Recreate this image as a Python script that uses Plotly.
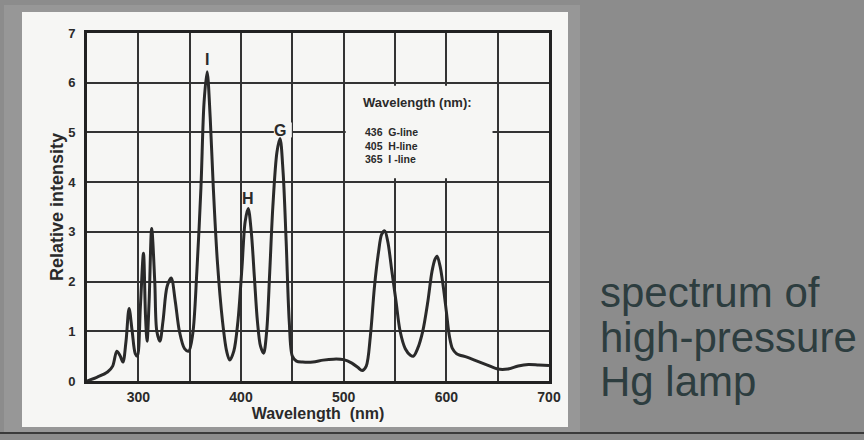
import plotly.graph_objects as go

# ---- data ----
wavelength_nm = [250, 260, 270, 275, 279, 282, 285, 288, 291, 294, 297, 299, 302, 305, 307, 308.5,
                 310.5, 313, 316, 318, 321, 324, 328, 332, 336, 340, 345, 349, 353, 357, 361, 364,
                 367, 370, 373, 377, 382, 386, 389, 393, 397, 401, 404, 407, 410, 413, 416, 419,
                 422, 425, 428, 431, 435, 438, 441, 444, 447, 450, 454, 460, 470, 480, 490, 500,
                 508, 514, 518, 522, 526, 530, 534, 537, 540, 543, 547, 551, 555, 560, 565, 568,
                 572, 577, 582, 586, 589, 591, 594, 597, 600, 603, 606, 610, 620, 630, 640, 650,
                 660, 670, 680, 690, 700]
intensity = [0.0, 0.08, 0.18, 0.3, 0.6, 0.52, 0.38, 0.8, 1.46, 1.0, 0.55, 0.5, 1.5, 2.57, 1.3, 0.8,
             1.6, 3.07, 2.0, 1.0, 0.8, 1.2, 1.9, 2.07, 1.6, 1.0, 0.65, 0.6, 0.95, 2.2, 3.9, 5.6,
             6.22, 5.3, 3.9, 2.4, 1.2, 0.6, 0.42, 0.6, 1.2, 2.3, 3.2, 3.47, 3.0, 2.1, 1.2, 0.7,
             0.56, 1.0, 2.2, 3.5, 4.6, 4.88, 4.2, 2.8, 1.2, 0.5, 0.4, 0.38, 0.38, 0.42, 0.44, 0.43,
             0.36, 0.27, 0.21, 0.3, 0.9, 1.9, 2.6, 2.95, 3.02, 2.8, 2.2, 1.6, 1.0, 0.65, 0.52, 0.5,
             0.65, 1.0, 1.6, 2.2, 2.45, 2.51, 2.3, 1.9, 1.4, 0.9, 0.65, 0.55, 0.48, 0.4, 0.32, 0.24,
             0.24, 0.3, 0.33, 0.32, 0.31]

x_tick_vals = [250, 300, 350, 400, 450, 500, 550, 600, 650, 700]
x_tick_text = ["", "300", "", "400", "", "500", "", "600", "", "700"]
y_tick_vals = [0, 1, 2, 3, 4, 5, 6, 7]

peak_labels = ["I", "H", "G"]
peak_label_x = [367, 407, 438]
peak_label_y = [6.47, 3.68, 5.03]

legend_title = "Wavelength (nm):"
legend_lines = ["436  G-line", "405  H-line", "365  I -line"]

side_lines = ["spectrum of", "high-pressure", "Hg lamp"]
side_line_px = [292, 337, 382]

INK = "#2a2a2a"
PANEL = "#f6f6f4"
FONT = "Liberation Sans"

fig = go.Figure()
fig.add_trace(go.Scatter(
    x=wavelength_nm, y=intensity, mode="lines",
    line=dict(color=INK, width=3, shape="spline", smoothing=0.9),
    showlegend=False, hoverinfo="skip"))

shapes = [
    # gray frame of the scanned picture
    dict(type="rect", xref="paper", yref="paper", layer="below",
         x0=(4 - 87) / 462, x1=(580 - 87) / 462, y0=(381 - 432) / 348, y1=(381 - 5) / 348,
         fillcolor="#979797", line=dict(width=0)),
    # white card
    dict(type="rect", xref="paper", yref="paper", layer="below",
         x0=(22 - 87) / 462, x1=(568 - 87) / 462, y0=(381 - 427) / 348, y1=(381 - 12) / 348,
         fillcolor=PANEL, line=dict(width=0)),
    # dark line at the bottom of the slide
    dict(type="line", xref="paper", yref="paper",
         x0=-0.2, x1=1.7, y0=(381 - 433) / 348, y1=(381 - 433) / 348,
         line=dict(color="#3a3a3a", width=2)),
    # breaks in the grid behind the legend text and the G label
    dict(type="rect", xref="x", yref="y", layer="between",
         x0=502, x1=645, y0=4.08, y1=5.94, fillcolor=PANEL, line=dict(width=0)),
    dict(type="rect", xref="x", yref="y", layer="between",
         x0=432, x1=449.5, y0=4.9, y1=5.2, fillcolor=PANEL, line=dict(width=0)),
]

annotations = []
for t, x, y in zip(peak_labels, peak_label_x, peak_label_y):
    annotations.append(dict(x=x, y=y, xref="x", yref="y", text=t, showarrow=False,
                            font=dict(family=FONT, size=16, color=INK, weight="bold")))
annotations.append(dict(x=572, y=5.6, xref="x", yref="y", text=legend_title, showarrow=False,
                        font=dict(family=FONT, size=13, color=INK, weight="bold")))
annotations.append(dict(x=519, y=4.74, xref="x", yref="y", text="<br>".join(legend_lines),
                        showarrow=False, xanchor="left", yanchor="middle", align="left",
                        font=dict(family=FONT, size=10.5, color=INK, weight="bold")))
for t, py in zip(side_lines, side_line_px):
    annotations.append(dict(x=(598 - 87) / 462, y=(381 - py) / 348, xref="paper", yref="paper",
                            text=t, showarrow=False, xanchor="left", yanchor="middle",
                            font=dict(family=FONT, size=42, color="#2d3d3f")))

fig.update_layout(
    width=864, height=440,
    margin=dict(l=87, r=315, t=33, b=59),
    paper_bgcolor="#8c8c8c", plot_bgcolor=PANEL,
    shapes=shapes, annotations=annotations, showlegend=False,
    xaxis=dict(range=[250, 700], tickvals=x_tick_vals, ticktext=x_tick_text,
               showgrid=True, gridcolor="#333333", gridwidth=2, zeroline=False,
               showline=True, mirror=True, linecolor="#222222", linewidth=3,
               ticks="", ticklabelstandoff=1,
               tickfont=dict(family=FONT, size=14, color=INK, weight="bold"),
               title=dict(text="Wavelength  (nm)", standoff=4,
                          font=dict(family=FONT, size=16, color=INK, weight="bold"))),
    yaxis=dict(range=[0, 7], tickvals=y_tick_vals,
               showgrid=True, gridcolor="#333333", gridwidth=2, zeroline=False,
               showline=True, mirror=True, linecolor="#222222", linewidth=3,
               ticks="", ticklabelstandoff=6,
               tickfont=dict(family=FONT, size=13, color=INK, weight="bold"),
               title=dict(text="Relative intensity", standoff=0,
                          font=dict(family=FONT, size=18, color=INK, weight="bold"))),
)

fig.write_html("out.html", config={"displayModeBar": False},
               post_script="document.body.style.margin='0';")
